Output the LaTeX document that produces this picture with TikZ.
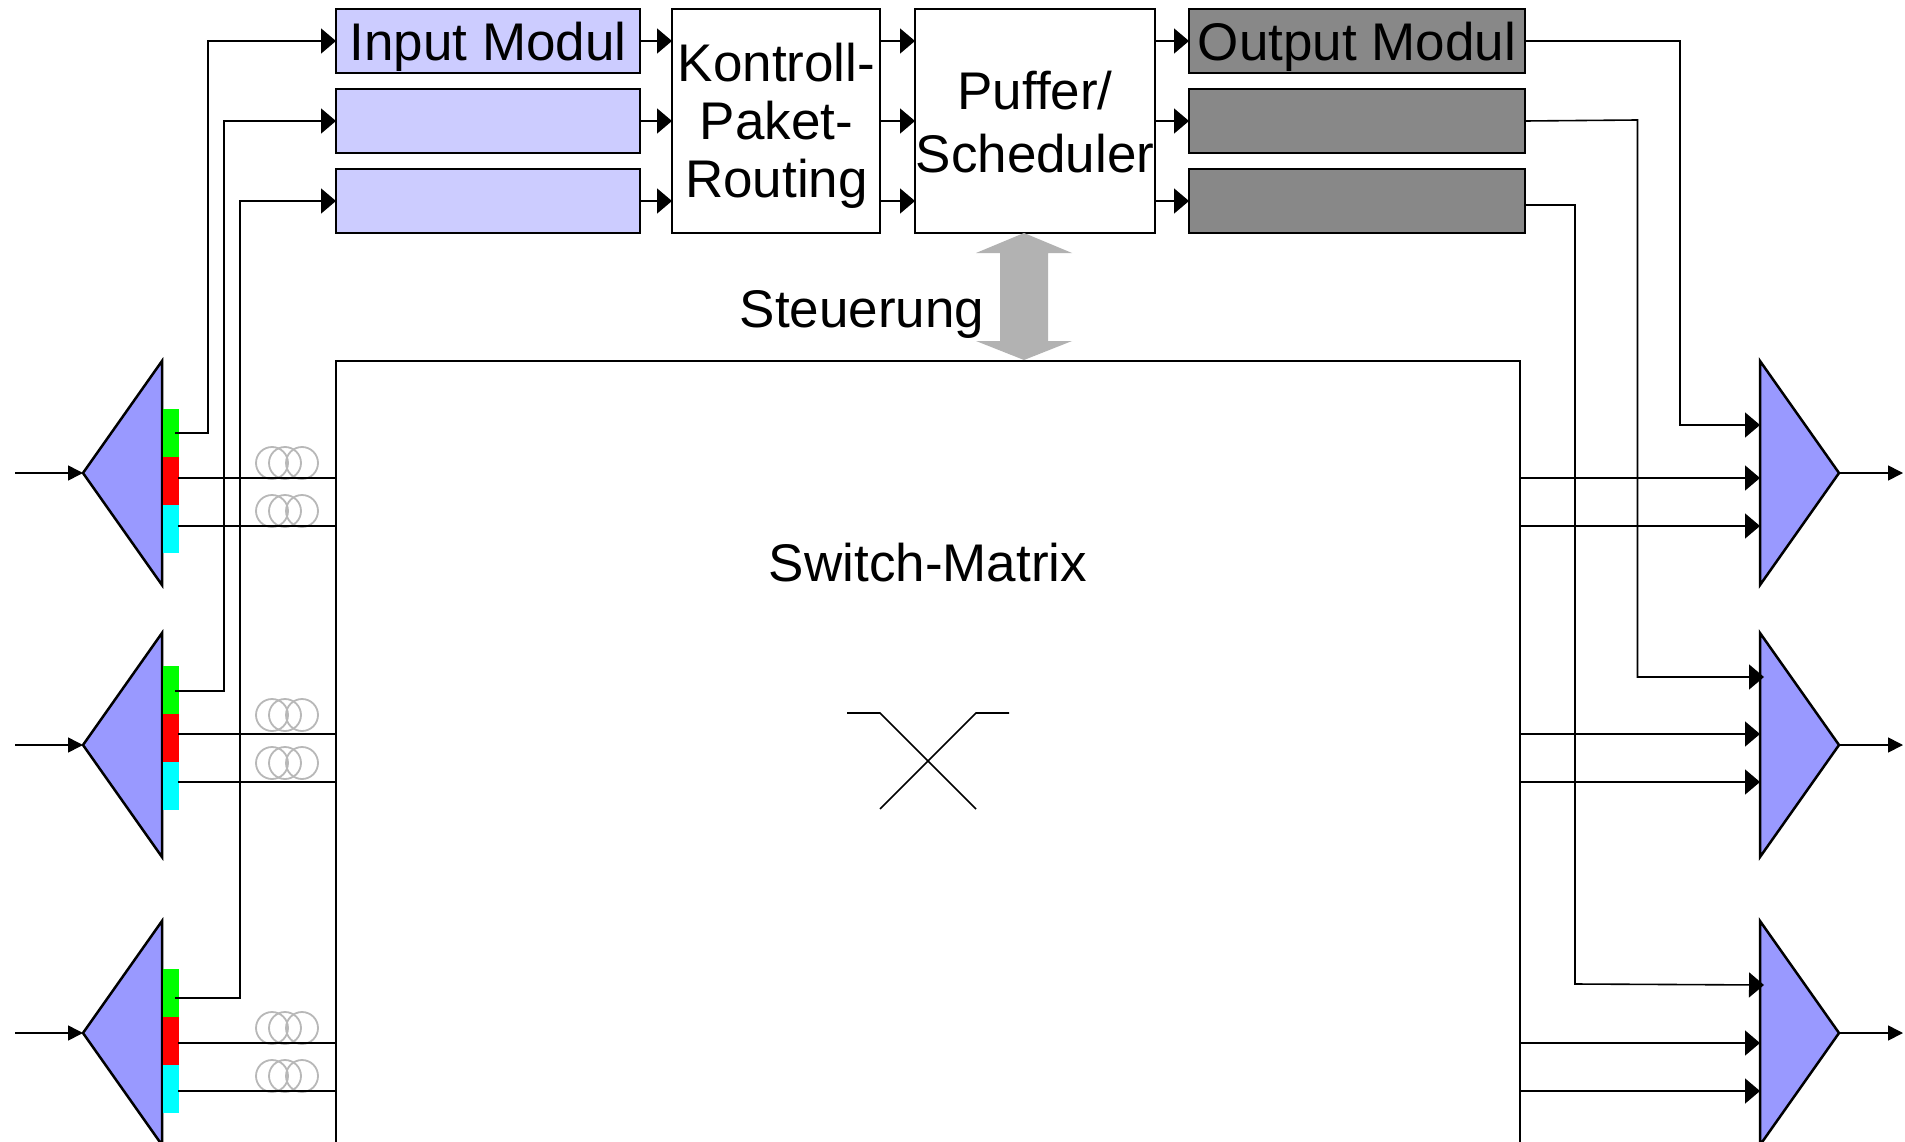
\documentclass[tikz,border=0pt]{standalone}
\usepackage{fontspec}
\setmainfont{Liberation Sans}
\usetikzlibrary{arrows.meta,calc}
\definecolor{triblue}{HTML}{9999FF}
\definecolor{modblue}{HTML}{CCCCFF}
\definecolor{modgrey}{HTML}{888888}
\definecolor{coilgrey}{HTML}{B8B8B8}
\definecolor{bigarrow}{HTML}{B2B2B2}
\definecolor{chipcyan}{HTML}{00FFFF}
\tikzset{
  modbox/.style={draw=black,line width=1.7pt,minimum width=#1,inner sep=0pt,outer sep=0pt,font=\fontsize{53}{53}\selectfont,align=center},
  inmod/.style={modbox=304pt,minimum height=64pt,fill=modblue},
  outmod/.style={modbox=336pt,minimum height=64pt,fill=modgrey},
  procbox/.style={modbox=#1,minimum height=224pt,fill=white},
  label/.style={inner sep=0pt,outer sep=0pt,font=\fontsize{53}{53}\selectfont,align=center},
  tri/.style={draw=black,line width=2.5pt,fill=triblue,line join=miter},
  chip/.style={draw=none,fill=#1,minimum width=16pt,minimum height=48pt,inner sep=0pt,outer sep=0pt},
  conn/.style={draw=black,line width=1.6pt},
  bigtip/.style={conn,-{Triangle[length=15pt,width=25pt]}},
  smalltip/.style={conn,-{Triangle[length=15pt,width=15pt]}},
  coil/.style={draw=coilgrey,line width=1.8pt},
}
\begin{document}
\begin{tikzpicture}[x=1pt,y=-1pt]
\clip (0,0) rectangle (1905,1142);
\fill[white] (0,0) rectangle (1905,1142);

% Switch matrix (runs past the lower edge)
\node[draw=black,line width=1.7pt,inner sep=0pt,outer sep=0pt,minimum width=1184pt,minimum height=881pt,anchor=north west] (switch) at (336,361) {};
\node[label] (switchlabel) at (928,562.5) {Switch-Matrix};
\draw[conn] (847,713) -- (880,713) -- (976,809);
\draw[conn] (1009,713) -- (976,713) -- (880,809);

% Upper row of modules
\node[inmod] (in1) at (488,41) {\raisebox{-20pt}[0pt][0pt]{Input Modul}};
\node[inmod] (in2) at (488,121) {};
\node[inmod] (in3) at (488,201) {};
\node[procbox=208pt] (kontroll) at (776,121) {};
\node[label] (kontrolltext) at (776.5,125.5) {Kontroll-\\[5pt]Paket-\\[5pt]Routing};
\node[procbox=240pt] (puffer) at (1035,121) {};
\node[label] (puffertext) at (1035,122) {Puffer/\\[10.5pt]Scheduler};
\node[outmod] (out1) at (1357,41) {\raisebox{-20pt}[0pt][0pt]{Output Modul}};
\node[outmod] (out2) at (1357,121) {};
\node[outmod] (out3) at (1357,201) {};

% Links between the modules
\foreach \y in {41,121,201}{
  \coordinate (ka\y) at (672,\y);
  \coordinate (kb\y) at (880,\y);
  \coordinate (pa\y) at (915,\y);
  \coordinate (pb\y) at (1155,\y);
  \coordinate (oa\y) at (1189,\y);
  \coordinate (ib\y) at (640,\y);
  \draw[bigtip] (ib\y) -- (ka\y);
  \draw[bigtip] (kb\y) -- (pa\y);
  \draw[bigtip] (pb\y) -- (oa\y);
}

% Control arrow
\fill[bigarrow] (1024,233) -- (1072,253) -- (1048,253) -- (1048,341) -- (1072,341) -- (1024,360) -- (976,341) -- (1000,341) -- (1000,253) -- (976,253) -- cycle;
\node[label] (steuerung) at (862,314) {Steuerung};

% Demultiplexers, left
\foreach \n/\c/\t in {1/473/409,2/745/666,3/1033/969}{
  \coordinate (ltip\n) at (83,\c);
  \coordinate (lstart\n) at (15,\c);
  \draw[tri] (ltip\n) -- (162,\c-112) -- (162,\c+112) -- cycle;
  \draw[smalltip] (lstart\n) -- (ltip\n);
  \node[chip=green,anchor=north west] (g\n) at (163,\t) {};
  \node[chip=red,anchor=north west] (r\n) at (163,\t+48) {};
  \node[chip=chipcyan,anchor=north west] (c\n) at (163,\t+96) {};
}

% Fibre coils
\foreach \n/\a/\b in {1/463/511,2/715/763,3/1028/1076}{
  \foreach \yy in {\a,\b}{
    \foreach \xx in {272,285,302}{
      \draw[coil] (\xx,\yy) circle (16);
    }
  }
}

% Data lines through the switch, left and right
\foreach \n/\a/\b in {1/478/526,2/734/782,3/1043/1091}{
  \coordinate (rout\n) at (178,\a);
  \coordinate (cout\n) at (178,\b);
  \coordinate (swla\n) at (336,\a);
  \coordinate (swlb\n) at (336,\b);
  \coordinate (swra\n) at (1520,\a);
  \coordinate (swrb\n) at (1520,\b);
  \coordinate (mxa\n) at (1760,\a);
  \coordinate (mxb\n) at (1760,\b);
  \draw[conn] (rout\n) -- (swla\n);
  \draw[conn] (cout\n) -- (swlb\n);
}

% Control lines to the input modules
\coordinate (gout1) at (175,433);
\coordinate (gout2) at (175,691);
\coordinate (gout3) at (175,998);
\draw[bigtip] (gout1) -- (208,433) -- (208,41) -- (in1.west);
\draw[bigtip] (gout2) -- (224,691) -- (224,121) -- (in2.west);
\draw[bigtip] (gout3) -- (240,998) -- (240,201) -- (in3.west);

% Multiplexers, right
\foreach \n/\c in {1/473,2/745,3/1033}{
  \coordinate (rtip\n) at (1839,\c);
  \coordinate (rend\n) at (1903,\c);
  \draw[tri] (1760,\c-112) -- (1760,\c+112) -- (rtip\n) -- cycle;
  \draw[smalltip] (rtip\n) -- (rend\n);
  \draw[bigtip] (swra\n) -- (mxa\n);
  \draw[bigtip] (swrb\n) -- (mxb\n);
}

% Lines from the output modules
\coordinate (mxt1) at (1760,425);
\coordinate (mxt2) at (1764,677);
\coordinate (mxt3) at (1764,985);
\coordinate (o2out) at (1525,121);
\coordinate (o3out) at (1525,205);
\draw[bigtip] (out1.east) -- (1680,41) -- (1680,425) -- (mxt1);
\draw[bigtip] (o2out) -- (1637.5,120) -- (1637.5,677) -- (mxt2);
\draw[bigtip] (o3out) -- (1575,205) -- (1575,984) -- (mxt3);
\end{tikzpicture}
\end{document}
